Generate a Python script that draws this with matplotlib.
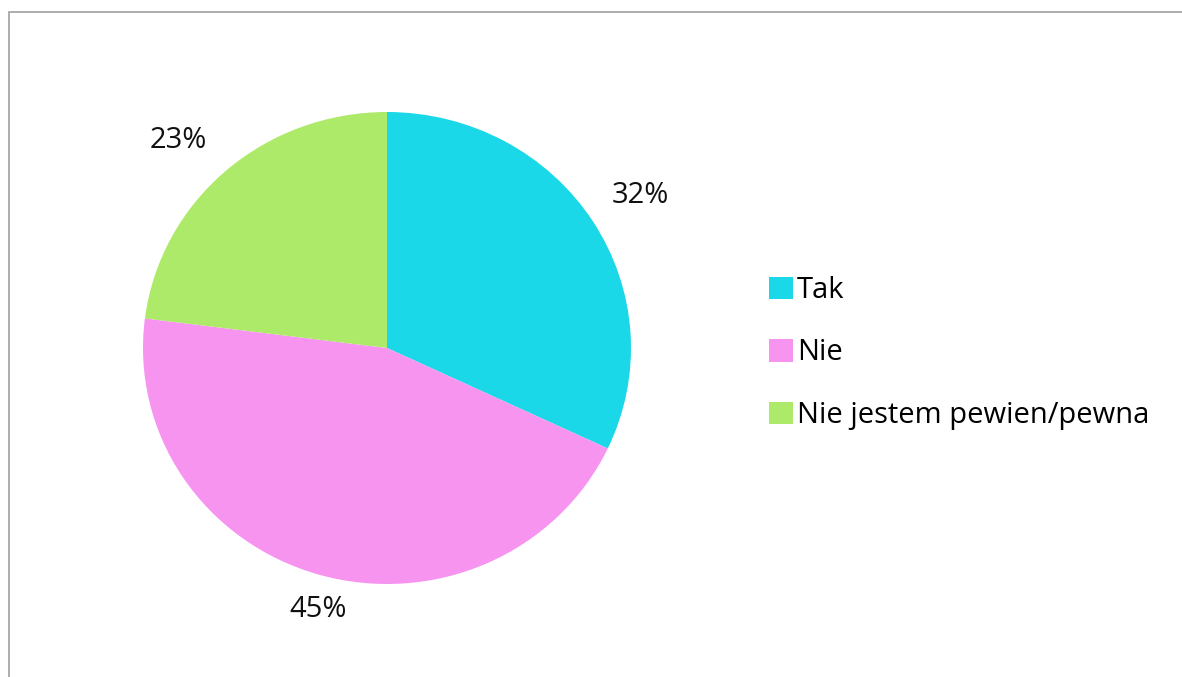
import matplotlib.pyplot as plt
from matplotlib.patches import Rectangle, Patch

labels = ["Tak", "Nie", "Nie jestem pewien/pewna"]
values = [32, 45, 23]
colors = ["#1ad8e8", "#f794ef", "#aeea6a"]
# where each percentage sits, in pie units
label_pos = [(1.037, 0.648), (-0.283, -1.11), (-0.857, 0.881)]

plt.rcParams['font.family'] = ['Open Sans', 'DejaVu Sans']

W, H = 1182, 677
fig = plt.figure(figsize=(W / 100, H / 100), dpi=100)

# chart frame, running off the right and bottom edges
fig.patches.append(Rectangle((9 / W, -0.05), 1.1, 1 - 12 / H + 0.05,
                             transform=fig.transFigure, fill=False,
                             edgecolor="#a0a0a0", linewidth=1.2))

cx, cy, rx, ry = 387, 348, 244, 236
ax = fig.add_axes([(cx - rx) / W, (H - cy - ry) / H, 2 * rx / W, 2 * ry / H])
wedges, texts, autotexts = ax.pie(values, colors=colors, startangle=90,
                                  counterclock=False, autopct="%1.0f%%",
                                  textprops=dict(fontsize=21, color="#111111"))
for t, p in zip(autotexts, label_pos):
    t.set_position(p)
ax.set_xlim(-1, 1)
ax.set_ylim(-1, 1)
ax.set_aspect("auto")
ax.axis("off")

handles = [Patch(facecolor=c, edgecolor="none") for c in colors]
fig.legend(handles, labels, loc="center left", bbox_to_anchor=(743 / W, 1 - 353 / H),
           frameon=False, fontsize=21, handlelength=0.8, handleheight=0.8,
           handletextpad=0.15, labelspacing=1.15)

fig.savefig("out.png", dpi=100)
